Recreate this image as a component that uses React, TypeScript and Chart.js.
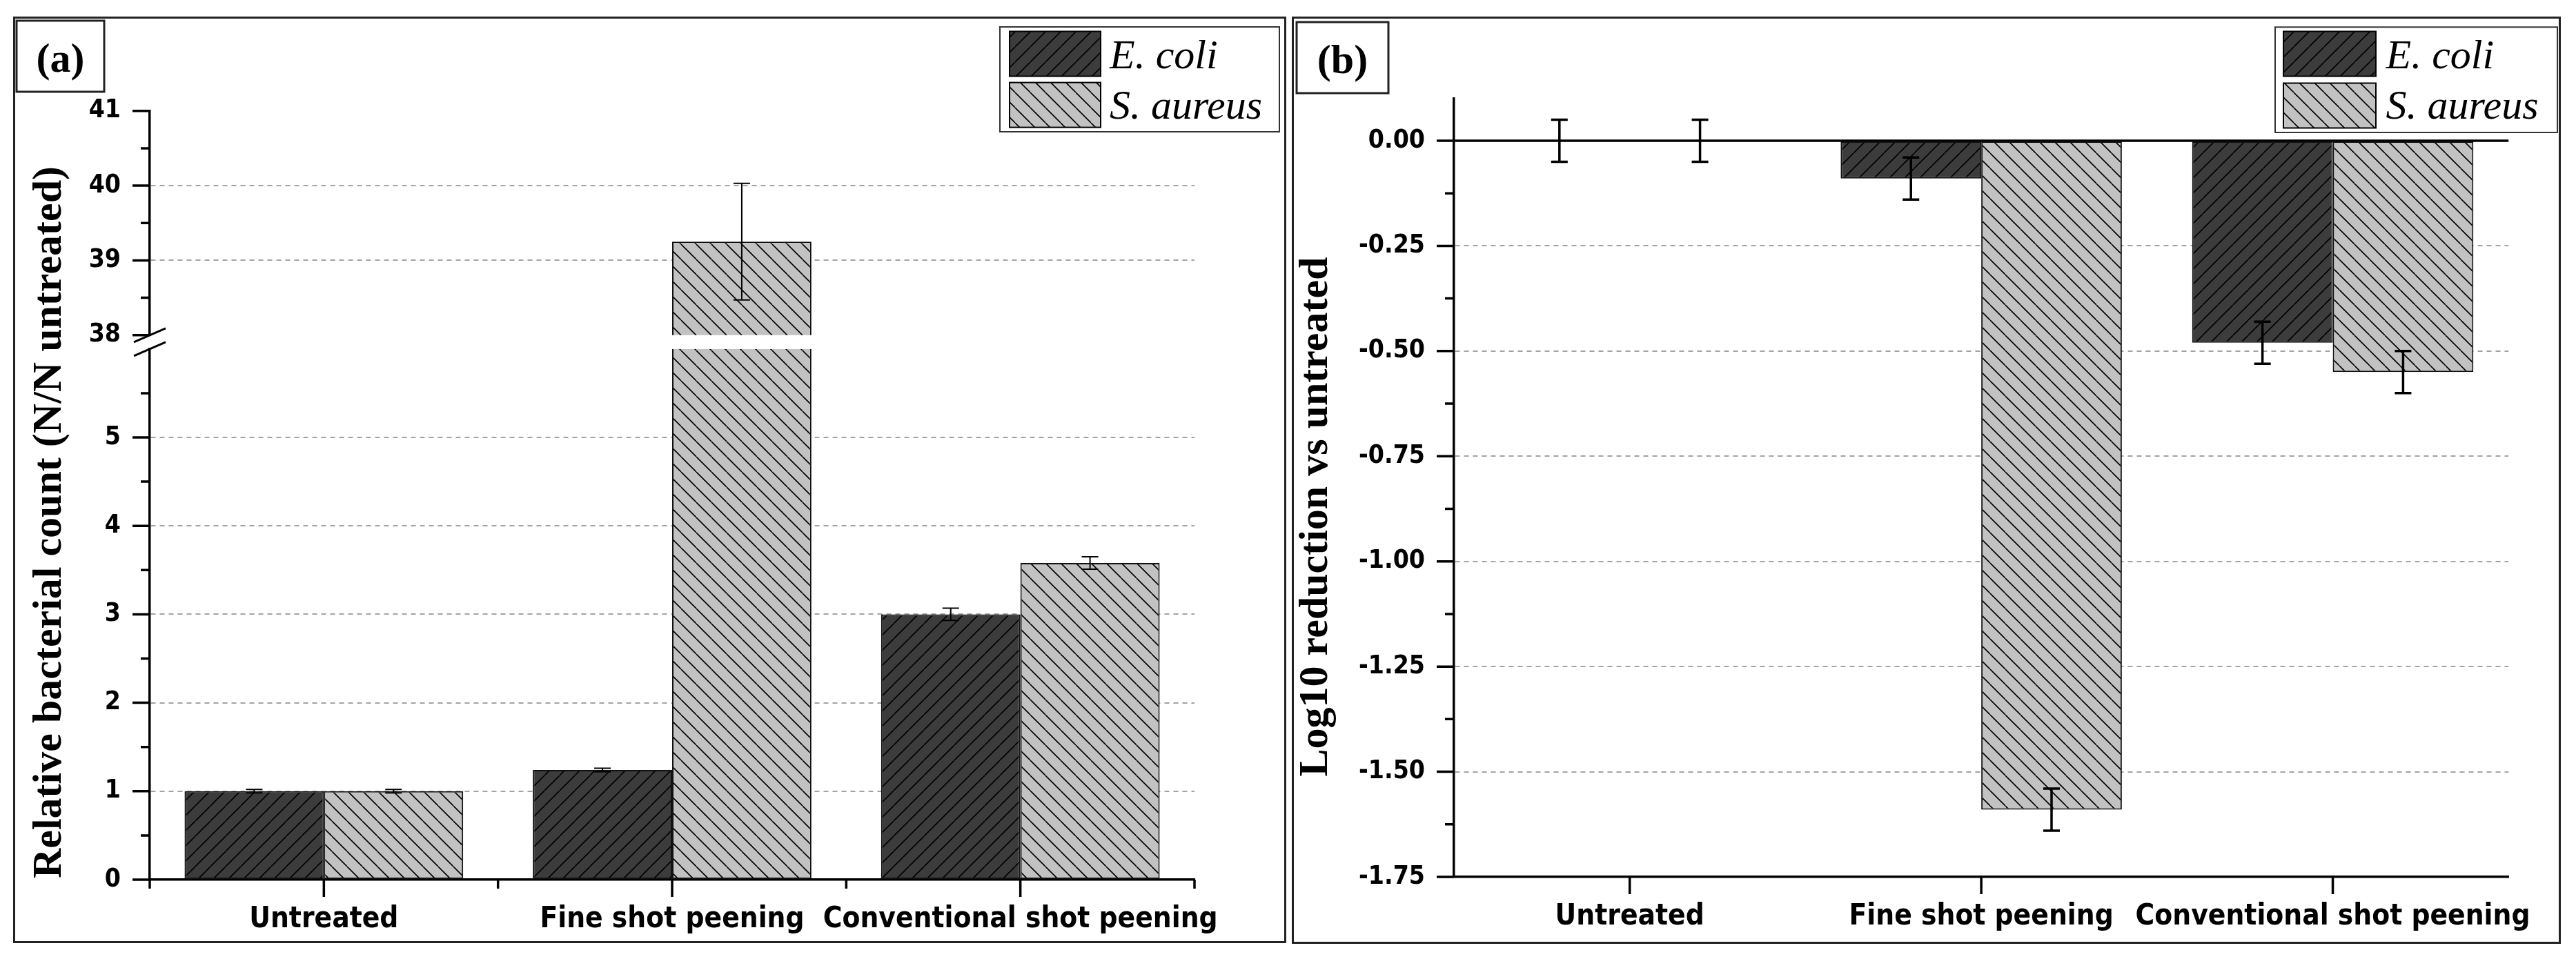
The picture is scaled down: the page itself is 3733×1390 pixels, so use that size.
import { useEffect, useRef } from 'react';
import { Chart, registerables } from 'chart.js';

Chart.register(...registerables);

// categories and series
const categories = ['Untreated', 'Fine shot peening', 'Conventional shot peening'];
const seriesNames = ['E. coli', 'S. aureus'];

// (a) relative bacterial count (N/N untreated)
const countEcoli = [1.0, 1.24, 3.0];
const countEcoliErr = [0.02, 0.02, 0.07];
const countSaureus = [1.0, 39.25, 3.58];
const countSaureusErr = [0.02, 0.78, 0.07];

// (b) log10 reduction vs untreated
const logEcoli = [0, -0.09, -0.48];
const logEcoliErr = [0.05, 0.05, 0.05];
const logSaureus = [0, -1.59, -0.55];
const logSaureusErr = [0.05, 0.05, 0.05];

// tick values
const countTicksLow = [0, 1, 2, 3, 4, 5];
const countMinorLow = [0.5, 1.5, 2.5, 3.5, 4.5, 5.5];
const countTicksHigh = [38, 39, 40, 41];
const countMinorHigh = [38.5, 39.5, 40.5];
const logTicks = [0, -0.25, -0.5, -0.75, -1, -1.25, -1.5, -1.75];
const logMinor = [-0.125, -0.375, -0.625, -0.875, -1.125, -1.375, -1.625];

const SANS = "'DejaVu Sans Condensed', 'DejaVu Sans', sans-serif";
const SERIF = "'Liberation Serif', 'Times New Roman', serif";
const ECOLI_FILL = '#3c3c3c';
const SAUREUS_FILL = '#c2c2c2';
const GRID = '#a3a3a3';

function makeHatch(fill: string, forward: boolean): CanvasPattern {
  const s = 22;
  const c = document.createElement('canvas');
  c.width = s;
  c.height = s;
  const g = c.getContext('2d')!;
  g.fillStyle = fill;
  g.fillRect(0, 0, s, s);
  g.strokeStyle = '#000';
  g.lineWidth = 1.6;
  g.beginPath();
  for (const o of [-s, 0, s]) {
    if (forward) {
      g.moveTo(o, s);
      g.lineTo(o + s, 0);
    } else {
      g.moveTo(o, 0);
      g.lineTo(o + s, s);
    }
  }
  g.stroke();
  return g.createPattern(c, 'repeat')!;
}

interface Deco {
  tag: string;
  tagBox: number[];
  tagText: number[];
  frame: number[];
  title: string;
  titlePos: number[];
  legendBox: number[];
  swatchX: number;
  swatchW: number;
  swatchY: number[];
  swatchH: number;
  textX: number;
  textY: number[];
  xMinor: boolean;
  yAxes: { id: string; major: number[]; minor: number[] }[];
  errWidth: number;
  zeroAxis?: string;
  breakAxes?: string[];
}

function decoPlugin(d: Deco) {
  return {
    id: 'deco',
    beforeDatasetsDraw(chart: any) {
      if (!d.zeroAxis) return;
      const ctx = chart.ctx;
      const a = chart.chartArea;
      const y0 = chart.scales[d.zeroAxis].getPixelForValue(0);
      ctx.save();
      ctx.strokeStyle = '#000';
      ctx.lineWidth = 3.5;
      ctx.beginPath();
      ctx.moveTo(a.left, y0);
      ctx.lineTo(a.right, y0);
      ctx.stroke();
      ctx.restore();
    },
    beforeDatasetDraw(chart: any, args: any) {
      // keep each copy of a series inside its own axis segment
      const ys = chart.scales[args.meta.yAxisID];
      const a = chart.chartArea;
      const ctx = chart.ctx;
      ctx.save();
      ctx.beginPath();
      ctx.rect(a.left - 30, ys.top, a.right - a.left + 60, ys.bottom - ys.top + 2);
      ctx.clip();
    },
    afterDatasetDraw(chart: any, args: any) {
      const ctx = chart.ctx;
      const ds: any = chart.data.datasets[args.index];
      const ys = chart.scales[args.meta.yAxisID];
      ctx.strokeStyle = '#000';
      ctx.lineWidth = d.errWidth;
      args.meta.data.forEach((bar: any, i: number) => {
        const v = ds.data[i];
        const e = ds.errorBars[i];
        const x = bar.x;
        const y1 = ys.getPixelForValue(v + e);
        const y2 = ys.getPixelForValue(v - e);
        ctx.beginPath();
        ctx.moveTo(x, y1);
        ctx.lineTo(x, y2);
        ctx.moveTo(x - 12, y1);
        ctx.lineTo(x + 12, y1);
        ctx.moveTo(x - 12, y2);
        ctx.lineTo(x + 12, y2);
        ctx.stroke();
      });
      ctx.restore();
    },
    afterDraw(chart: any) {
      const ctx = chart.ctx;
      const area = chart.chartArea;
      ctx.save();

      // tick marks
      ctx.strokeStyle = '#000';
      ctx.lineWidth = 3.5;
      for (const ax of d.yAxes) {
        const s = chart.scales[ax.id];
        const x = area.left;
        ctx.beginPath();
        for (const v of ax.major) {
          const y = s.getPixelForValue(v);
          ctx.moveTo(x - 25, y);
          ctx.lineTo(x, y);
        }
        for (const v of ax.minor) {
          const y = s.getPixelForValue(v);
          ctx.moveTo(x - 13, y);
          ctx.lineTo(x, y);
        }
        ctx.stroke();
      }
      const xs = chart.scales.x;
      ctx.beginPath();
      categories.forEach((_, i) => {
        const px = xs.getPixelForValue(i);
        ctx.moveTo(px, area.bottom);
        ctx.lineTo(px, area.bottom + 25);
      });
      if (d.xMinor) {
        for (let i = 0; i <= categories.length; i++) {
          const px = xs.getPixelForValue(i - 0.5);
          ctx.moveTo(px, area.bottom);
          ctx.lineTo(px, area.bottom + 13);
        }
      }
      ctx.stroke();

      // axis break
      if (d.breakAxes) {
        const hi = chart.scales[d.breakAxes[0]];
        const lo = chart.scales[d.breakAxes[1]];
        ctx.lineWidth = 3;
        ctx.beginPath();
        for (const y of [hi.bottom, lo.top]) {
          ctx.moveTo(area.left - 23, y + 10);
          ctx.lineTo(area.left + 23, y - 10);
        }
        ctx.stroke();
      }

      // panel frame and tag
      ctx.strokeStyle = '#222';
      ctx.lineWidth = 3;
      ctx.strokeRect(d.frame[0], d.frame[1], d.frame[2], d.frame[3]);
      ctx.strokeRect(d.tagBox[0], d.tagBox[1], d.tagBox[2], d.tagBox[3]);
      ctx.fillStyle = '#000';
      ctx.font = `bold 60px ${SERIF}`;
      ctx.textAlign = 'center';
      ctx.textBaseline = 'alphabetic';
      ctx.fillText(d.tag, d.tagText[0], d.tagText[1]);

      // y title
      ctx.save();
      ctx.translate(d.titlePos[0], d.titlePos[1]);
      ctx.rotate(-Math.PI / 2);
      ctx.fillText(d.title, 0, 0);
      ctx.restore();

      // legend
      ctx.lineWidth = 2;
      ctx.strokeStyle = '#333';
      ctx.strokeRect(d.legendBox[0], d.legendBox[1], d.legendBox[2], d.legendBox[3]);
      chart.data.datasets.slice(0, 2).forEach((ds: any, i: number) => {
        ctx.fillStyle = ds.backgroundColor;
        ctx.fillRect(d.swatchX, d.swatchY[i], d.swatchW, d.swatchH);
        ctx.strokeStyle = '#000';
        ctx.strokeRect(d.swatchX, d.swatchY[i], d.swatchW, d.swatchH);
        ctx.fillStyle = '#000';
        ctx.font = `italic 60px ${SERIF}`;
        ctx.textAlign = 'left';
        ctx.fillText(ds.label, d.textX, d.textY[i]);
      });
      ctx.restore();
    },
  };
}

const xScale = (height: number, padding: number) => ({
  type: 'category' as const,
  offset: true,
  grid: { display: true, drawOnChartArea: false, drawTicks: false },
  border: { display: true, color: '#000', width: 3.5 },
  ticks: {
    color: '#000',
    font: { family: SANS, weight: 'bold' as const, size: 42 },
    padding,
    maxRotation: 0,
    minRotation: 0,
    autoSkip: false,
  },
  afterFit: (s: any) => {
    s.height = height;
  },
});

function yGrid(lo: number, hi: number) {
  return {
    color: (c: any) => (c.tick && c.tick.value > lo && c.tick.value < hi ? GRID : 'rgba(0,0,0,0)'),
    lineWidth: 2,
    drawTicks: false,
  };
}

const barStyle = (fill: CanvasPattern) => ({
  backgroundColor: fill,
  borderColor: '#111',
  borderWidth: 2,
  borderSkipped: false as const,
});

export default function App() {
  const refA = useRef<HTMLCanvasElement>(null);
  const refB = useRef<HTMLCanvasElement>(null);

  useEffect(() => {
    if (!refA.current || !refB.current) return;
    const ecoliPat = makeHatch(ECOLI_FILL, true);
    const saureusPat = makeHatch(SAUREUS_FILL, false);
    const yFont = { family: SANS, weight: 'bold' as const, size: 37 };

    const chartA = new Chart(refA.current, {
      type: 'bar',
      data: {
        labels: categories,
        datasets: [
          { label: seriesNames[0], data: countEcoli, errorBars: countEcoliErr, yAxisID: 'yLow', stack: 'ecoli', ...barStyle(ecoliPat) } as any,
          { label: seriesNames[1], data: countSaureus, errorBars: countSaureusErr, yAxisID: 'yLow', stack: 'saureus', ...barStyle(saureusPat) } as any,
          { label: seriesNames[0], data: countEcoli, errorBars: countEcoliErr, yAxisID: 'yHigh', stack: 'ecoli', ...barStyle(ecoliPat) } as any,
          { label: seriesNames[1], data: countSaureus, errorBars: countSaureusErr, yAxisID: 'yHigh', stack: 'saureus', ...barStyle(saureusPat) } as any,
        ],
      },
      options: {
        responsive: false,
        animation: false,
        devicePixelRatio: 1,
        layout: { padding: { left: 0, top: 136.7, right: 134, bottom: 0 } },
        datasets: { bar: { categoryPercentage: 0.8, barPercentage: 1.0 } },
        plugins: { legend: { display: false }, tooltip: { enabled: false } },
        scales: {
          x: xScale(93, 33),
          yLow: {
            type: 'linear',
            axis: 'y',
            position: 'left',
            stack: 'count',
            stackWeight: 769,
            stacked: false,
            beginAtZero: false,
            min: 0,
            max: 6,
            afterBuildTicks: (s: any) => {
              s.ticks = countTicksLow.map((v) => ({ value: v }));
            },
            grid: yGrid(0, 6),
            border: { display: true, color: '#000', width: 3.5, dash: [7, 6] },
            ticks: { color: '#000', font: yFont, padding: 42, autoSkip: false },
            afterFit: (s: any) => {
              s.width = 198;
            },
          },
          yGap: {
            type: 'linear',
            axis: 'y',
            position: 'left',
            stack: 'count',
            stackWeight: 20,
            display: false,
          },
          yHigh: {
            type: 'linear',
            axis: 'y',
            position: 'left',
            stack: 'count',
            stackWeight: 325,
            stacked: false,
            beginAtZero: false,
            min: 38,
            max: 41,
            afterBuildTicks: (s: any) => {
              s.ticks = countTicksHigh.map((v) => ({ value: v }));
            },
            grid: yGrid(38, 41),
            border: { display: true, color: '#000', width: 3.5, dash: [7, 6] },
            ticks: { color: '#000', font: yFont, padding: 42, autoSkip: false },
            afterFit: (s: any) => {
              s.width = 198;
            },
          },
        } as any,
      },
      plugins: [
        decoPlugin({
          tag: '(a)',
          tagBox: [5, 6, 127, 103],
          tagText: [68.5, 80],
          frame: [1.5, 1.5, 1842, 1340],
          title: 'Relative bacterial count (N/N untreated)',
          titlePos: [69, 733],
          legendBox: [1430, 15, 405, 152],
          swatchX: 1444,
          swatchW: 132,
          swatchY: [21.5, 95.6],
          swatchH: 65,
          textX: 1589,
          textY: [75, 148],
          xMinor: true,
          yAxes: [
            { id: 'yLow', major: countTicksLow, minor: countMinorLow },
            { id: 'yHigh', major: countTicksHigh, minor: countMinorHigh },
          ],
          errWidth: 2,
          breakAxes: ['yHigh', 'yLow'],
        }) as any,
      ],
    });

    const chartB = new Chart(refB.current, {
      type: 'bar',
      data: {
        labels: categories,
        datasets: [
          { label: seriesNames[0], data: logEcoli, errorBars: logEcoliErr, ...barStyle(ecoliPat) } as any,
          { label: seriesNames[1], data: logSaureus, errorBars: logSaureusErr, ...barStyle(saureusPat) } as any,
        ],
      },
      options: {
        responsive: false,
        animation: false,
        devicePixelRatio: 1,
        layout: { padding: { left: 0, top: 119, right: 69, bottom: 0 } },
        datasets: { bar: { categoryPercentage: 0.8, barPercentage: 1.0 } },
        plugins: { legend: { display: false }, tooltip: { enabled: false } },
        scales: {
          x: xScale(97, 33),
          y: {
            type: 'linear',
            position: 'left',
            beginAtZero: false,
            min: -1.75,
            max: 0.1,
            afterBuildTicks: (s: any) => {
              s.ticks = logTicks.map((v) => ({ value: v }));
            },
            grid: yGrid(-1.75, 0),
            border: { display: true, color: '#000', width: 3.5, dash: [7, 6] },
            ticks: {
              color: '#000',
              font: yFont,
              padding: 42,
              autoSkip: false,
              callback: (v: any) => Number(v).toFixed(2),
            },
            afterFit: (s: any) => {
              s.width = 235;
            },
          },
        } as any,
      },
      plugins: [
        decoPlugin({
          tag: '(b)',
          tagBox: [7, 8, 133, 103],
          tagText: [73.5, 82],
          frame: [1.5, 1.5, 1836, 1341],
          title: 'Log10 reduction vs untreated',
          titlePos: [51, 725],
          legendBox: [1425, 15.3, 409, 152.7],
          swatchX: 1437,
          swatchW: 134,
          swatchY: [21.5, 96.5],
          swatchH: 65,
          textX: 1585.5,
          textY: [75, 148],
          xMinor: false,
          yAxes: [{ id: 'y', major: logTicks, minor: logMinor }],
          errWidth: 3.5,
          zeroAxis: 'y',
        }) as any,
      ],
    });

    return () => {
      chartA.destroy();
      chartB.destroy();
    };
  }, []);

  return (
    <div style={{ position: 'fixed', left: 0, top: 0, width: 3733, height: 1390, background: '#fff' }}>
      <canvas ref={refA} width={1846} height={1344} style={{ position: 'absolute', left: 19, top: 24 }} />
      <canvas ref={refB} width={1839} height={1344} style={{ position: 'absolute', left: 1872, top: 24 }} />
    </div>
  );
}
